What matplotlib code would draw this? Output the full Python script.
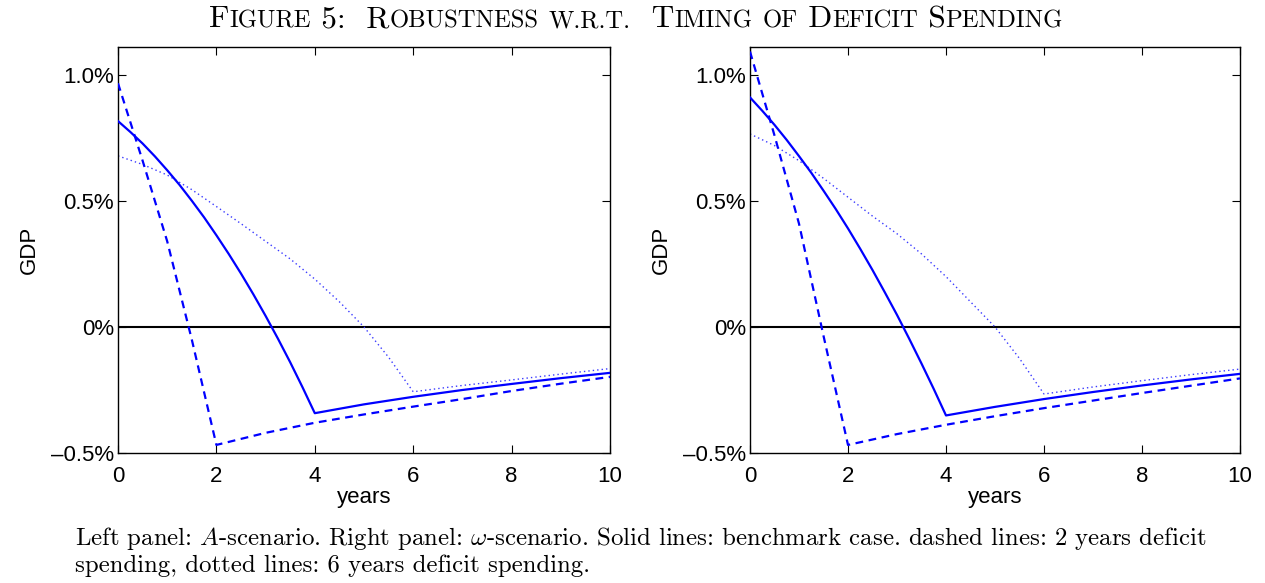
import matplotlib
matplotlib.use("Agg")
import matplotlib.pyplot as plt
import numpy as np

# values (percent of GDP)
x_bench = [0, 0.25, 0.5, 0.75, 1, 1.25, 1.5, 1.75, 2, 2.25, 2.5, 2.75, 3, 3.25, 3.5, 3.75, 4,
           5, 6, 7, 8, 9, 10]
x_two = [0, 0.5, 1, 1.5, 2, 3, 4, 5, 6, 7, 8, 9, 10]
x_six = [0, 0.5, 1, 1.5, 2, 2.5, 3, 3.5, 4, 4.5, 5, 5.5, 6, 7, 8, 9, 10]

A_bench = [0.817, 0.774, 0.728, 0.677, 0.622, 0.564, 0.501, 0.435, 0.364, 0.290, 0.212,
           0.130, 0.044, -0.046, -0.140, -0.239, -0.342,
           -0.307, -0.277, -0.250, -0.226, -0.203, -0.182]
A_two = [0.967, 0.66, 0.34, -0.05, -0.468, -0.42, -0.38, -0.347, -0.316,
         -0.286, -0.254, -0.225, -0.198]
A_six = [0.679, 0.645, 0.603, 0.545, 0.478, 0.41, 0.34, 0.27, 0.19, 0.10,
         0.0, -0.12, -0.257, -0.232, -0.21, -0.187, -0.165]

w_bench = [0.911, 0.858, 0.802, 0.742, 0.678, 0.612, 0.541, 0.468, 0.391, 0.310, 0.226,
           0.138, 0.048, -0.047, -0.145, -0.246, -0.351,
           -0.317, -0.286, -0.258, -0.232, -0.208, -0.186]
w_two = [1.093, 0.76, 0.41, -0.035, -0.468, -0.425, -0.388, -0.354, -0.322,
         -0.292, -0.262, -0.233, -0.204]
w_six = [0.766, 0.72, 0.66, 0.59, 0.515, 0.44, 0.37, 0.29, 0.20, 0.10,
         0.0, -0.125, -0.266, -0.238, -0.213, -0.189, -0.167]

yticks = [-0.5, 0, 0.5, 1.0]
ytick_labels = ["\u20130.5%", "0%", "0.5%", "1.0%"]
xticks = [0, 2, 4, 6, 8, 10]

plt.rcParams['mathtext.fontset'] = 'cm'
sans = ['Liberation Sans', 'DejaVu Sans']

fig = plt.figure(figsize=(12.65, 5.83), dpi=100)
ax1 = fig.add_axes([118/1265, 1-453/583, 492/1265, 406/583])
ax2 = fig.add_axes([750/1265, 1-453/583, 490/1265, 406/583])

for ax, sb, s2, s6 in [(ax1, A_bench, A_two, A_six), (ax2, w_bench, w_two, w_six)]:
    ax.axhline(0, color='black', lw=1.5, zorder=1)
    ax.plot(x_six, s6, color='#3a3aff', lw=1.0, ls=(0, (1, 2.2)), zorder=2)
    ax.plot(x_two, s2, color='#0000ff', lw=1.6, ls=(0, (3.5, 2.5)), zorder=3)
    ax.plot(x_bench, sb, color='#0000ff', lw=1.6, zorder=4)
    ax.set_xlim(0, 10)
    ax.set_ylim(-0.5, 1.111)
    ax.set_xticks(xticks)
    ax.set_xticklabels([str(t) for t in xticks], family=sans, fontsize=16)
    ax.set_yticks(yticks)
    ax.set_yticklabels(ytick_labels, family=sans, fontsize=16)
    ax.tick_params(direction='in', length=6, width=0.8, top=True, right=True)
    ax.tick_params(axis='x', pad=9.5)
    ax.tick_params(axis='y', pad=3)
    ax.set_xlabel('years', family=sans, fontsize=16, labelpad=0)
    ax.set_ylabel('GDP', family=sans, fontsize=16, labelpad=8)
    for sp in ax.spines.values():
        sp.set_linewidth(1.0)

# title in fake small caps
runs = [("F", 0), ("IGURE", 1), (" 5:  R", 0), ("OBUSTNESS", 1), (" ", 0), ("W.R.T.", 1),
        ("  T", 0), ("IMING", 1), (" ", 0), ("OF", 1), (" D", 0), ("EFICIT", 1),
        (" S", 0), ("PENDING", 1)]
texts = []
for s, small in runs:
    texts.append(fig.text(0, 1-27/583, s.replace(" ", "\u00a0"), family='cmr10',
                          fontsize=17.8 if small else 22.5, va='baseline', ha='left'))
fig.canvas.draw()
r = fig.canvas.get_renderer()
widths = [t.get_window_extent(r).width for t in texts]
total = sum(widths)
x = 636 - total/2
for t, w in zip(texts, widths):
    t.set_x(x/1265)
    x += w

cap1 = ("Left panel: $A$-scenario. Right panel: $\\omega$-scenario. Solid lines: benchmark case. "
        "dashed lines: 2 years deficit")
cap2 = "spending, dotted lines: 6 years deficit spending."
fig.text(75/1265, 1-545/583, cap1, family='cmr10', fontsize=17.85, va='baseline', ha='left')
fig.text(75/1265, 1-572/583, cap2, family='cmr10', fontsize=17.85, va='baseline', ha='left')

fig.savefig('out.png', dpi=100)
